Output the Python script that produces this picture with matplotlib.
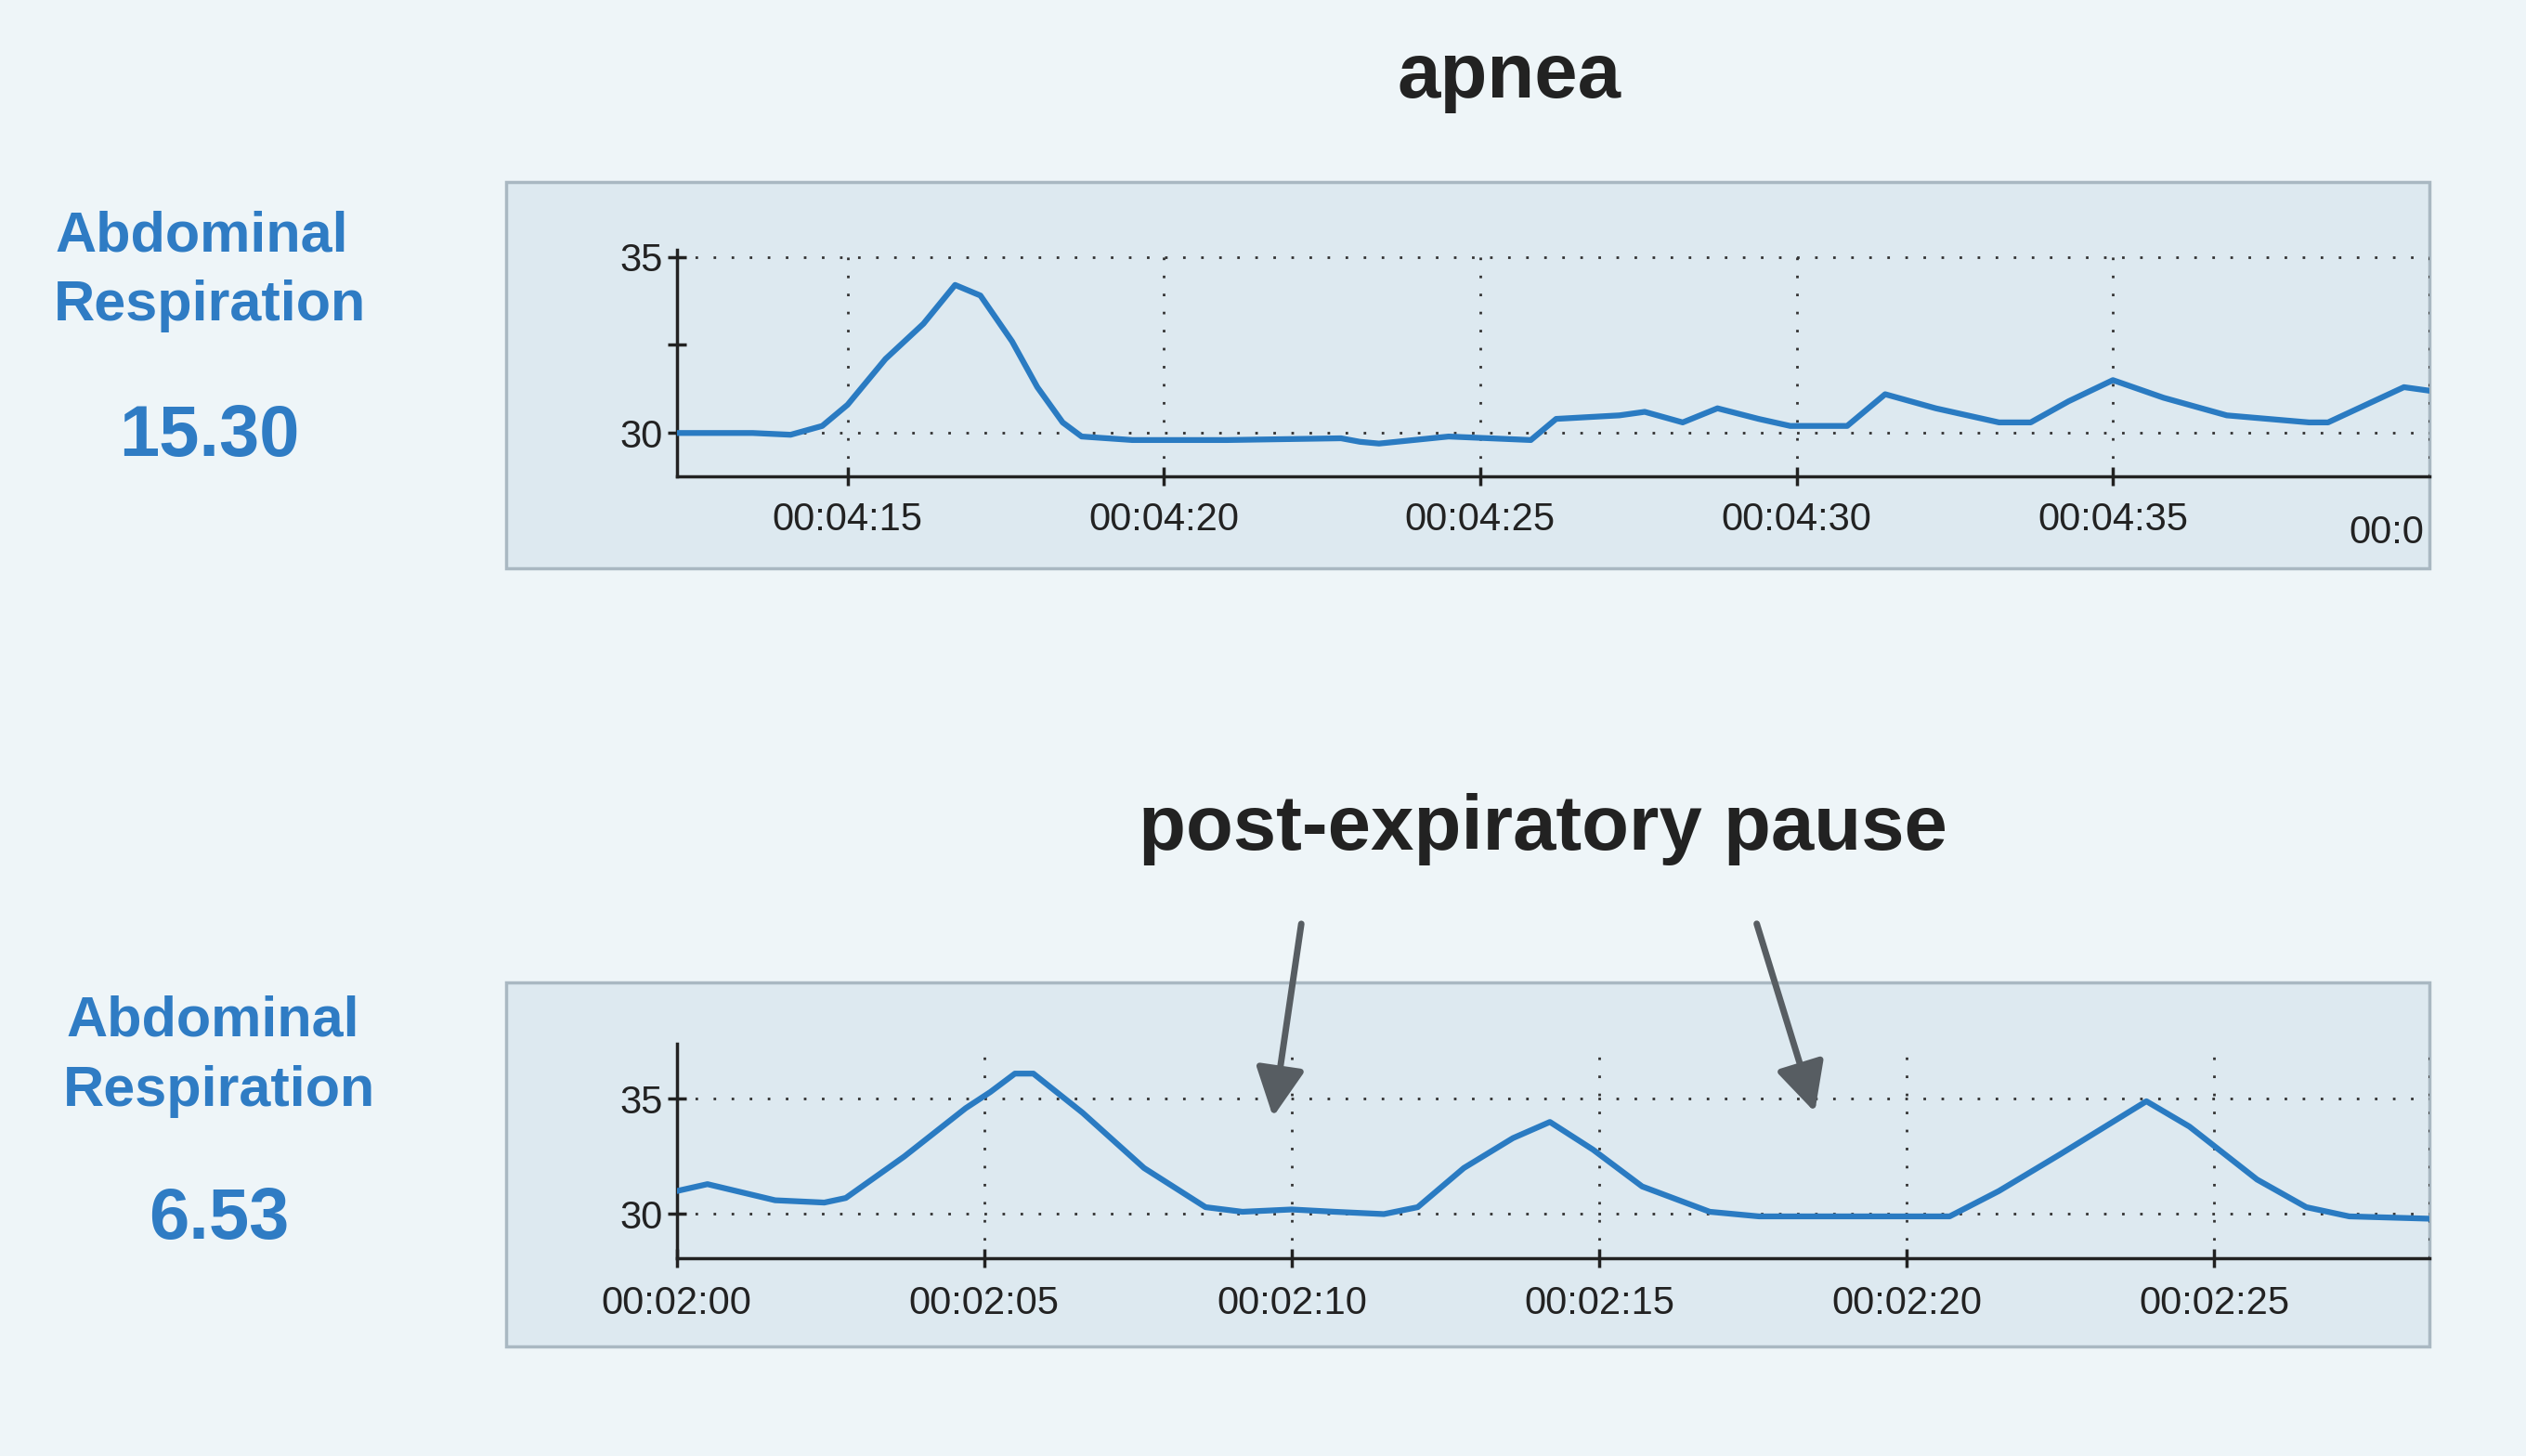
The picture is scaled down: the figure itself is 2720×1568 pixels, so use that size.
import matplotlib
matplotlib.use("Agg")
import matplotlib.pyplot as plt
from matplotlib.patches import Rectangle

top_t = [252.3,253.5,254.1,254.6,255,255.6,256.2,256.7,257.1,257.6,258.0,258.4,258.7,259.5,261,262.8,263.1,263.4,264.5,265.8,266.2,267.2,267.6,268.2,268.75,269.4,269.9,270.8,271.4,272.2,273.2,273.7,274.3,275,275.8,276.8,278.1,278.4,279,279.6,280]
top_v = [30.0,30.0,29.95,30.2,30.8,32.1,33.1,34.2,33.9,32.6,31.3,30.3,29.9,29.8,29.8,29.85,29.75,29.7,29.9,29.8,30.4,30.5,30.6,30.3,30.7,30.4,30.2,30.2,31.1,30.7,30.3,30.3,30.9,31.5,31.0,30.5,30.3,30.3,30.8,31.3,31.2]
bot_t = [120,120.5,121.6,122.4,122.75,123.7,124.7,125.1,125.5,125.8,126.6,127.6,128.6,129.2,130,130.7,131.5,132.05,132.8,133.6,134.2,134.9,135.7,136.8,137.6,140.7,141.5,142.5,143.9,144.6,145.7,146.5,147.2,148.5]
bot_v = [31.0,31.3,30.6,30.5,30.7,32.5,34.6,35.3,36.1,36.1,34.4,32.0,30.3,30.1,30.2,30.1,30.0,30.3,32.0,33.3,34.0,32.8,31.2,30.1,29.9,29.9,31.0,32.6,34.9,33.8,31.5,30.3,29.9,29.8]
top_ticks = [255,260,265,270,275]
top_labels = ["00:04:15","00:04:20","00:04:25","00:04:30","00:04:35"]
bot_ticks = [120,125,130,135,140,145]
bot_labels = ["00:02:00","00:02:05","00:02:10","00:02:15","00:02:20","00:02:25"]

BG="#eef5f8"; PANEL="#dde9f0"; BORDER="#a9b8c2"; LINE="#2a7bc2"; BLUE="#2f7cc4"; DARK="#222222"
FAM=['Liberation Sans Narrow','Liberation Sans','DejaVu Sans']
plt.rcParams['font.family']=FAM

fig=plt.figure(figsize=(27.2,15.68),dpi=100,facecolor=BG)
panels=[(0.2003,0.6095,0.7615,0.2655),(0.2003,0.0752,0.7615,0.25)]
for (x,y,w,h) in panels:
    fig.patches.append(Rectangle((x,y),w,h,transform=fig.transFigure,facecolor=PANEL,edgecolor=BORDER,lw=2.5,zorder=0))

def setup(ax,t,v,ticks,labels,xlim,ylim,minor):
    ax.set_zorder(5)
    ax.set_facecolor('none')
    ax.plot(t,v,color=LINE,lw=4.5,solid_capstyle='round',zorder=3)
    ax.set_xlim(*xlim); ax.set_ylim(*ylim)
    ax.set_xticks(ticks); ax.set_xticklabels(labels)
    ax.set_yticks([30,35]); ax.set_yticklabels(["30","35"])
    if minor: ax.set_yticks([32.5],minor=True)
    for s in ['top','right']: ax.spines[s].set_visible(False)
    for s in ['left','bottom']: ax.spines[s].set_linewidth(2.5); ax.spines[s].set_color(DARK)
    ax.tick_params(axis='both',which='both',direction='inout',length=14,width=2.5,color=DARK,labelsize=30,labelcolor=DARK,pad=12)
    ax.tick_params(axis='y',pad=4)
    for xt in ticks+[xlim[1]]:
        ax.axvline(xt,color='#333',lw=2,ls=(0,(1,6)),zorder=1)
    for yt in [30,35]:
        ax.axhline(yt,color='#333',lw=2,ls=(0,(1,6)),zorder=1)

ax1=fig.add_axes([0.2679,0.6726,0.9617-0.2679,0.8285-0.6726])
setup(ax1,top_t,top_v,top_ticks,top_labels,(252.3,280),(28.76,35.2),True)

ax2=fig.add_axes([0.2679,0.1361,0.9617-0.2679,0.2832-0.1361])
setup(ax2,bot_t,bot_v,bot_ticks,bot_labels,(120,148.5),(28.1,37.4),False)
ax2.tick_params(axis='x',pad=14)

W,H=1568,904
def ft(x,y,s,**kw):
    fig.text(x/W,1-y/H,s,ha='center',va='center',**kw)
fig.text(1458/W,1-331/H,"00:0",ha='left',va='center',fontsize=30,color=DARK)
ft(937,48,"apnea",fontsize=60,weight='bold',color=DARK)
ft(958,515,"post-expiratory pause",fontsize=60,weight='bold',color=DARK)
for (x,y,s,fs) in [(125,147,"Abdominal",44),(130,190,"Respiration",44),(130,271,"15.30",56),
                   (132,634,"Abdominal",44),(136,678,"Respiration",44),(136,757,"6.53",56)]:
    ft(x,y,s,fontsize=fs,weight='bold',color=BLUE)
for (x0,y0,x1,y1) in [(808,572,790,695),(1090,572,1127,692)]:
    fig.add_artist(matplotlib.patches.FancyArrowPatch((x0/W,1-y0/H),(x1/W,1-y1/H),transform=fig.transFigure,
        arrowstyle='-|>,head_length=1.6,head_width=0.8',mutation_scale=20,color='#575d62',lw=5,zorder=6))
fig.savefig("out.png",dpi=100,facecolor=BG)
